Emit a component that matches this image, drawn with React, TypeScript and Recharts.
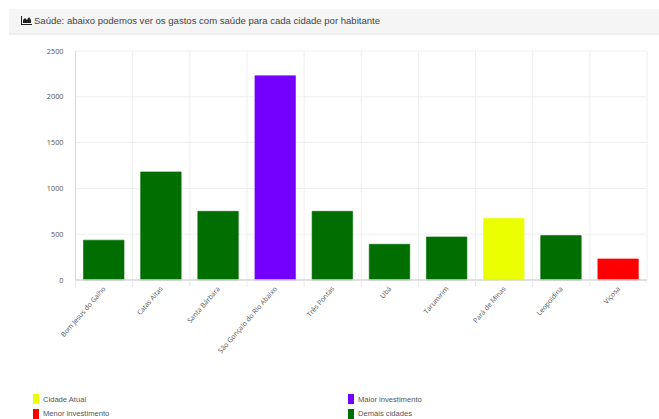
import { BarChart, Bar, Cell, XAxis, YAxis, CartesianGrid } from "recharts";

const cities = [
  "Bom Jesus do Galho",
  "Catas Altas",
  "Santa Bárbara",
  "São Gonçalo do Rio Abaixo",
  "Três Pontas",
  "Ubá",
  "Tarumirim",
  "Pará de Minas",
  "Leopoldina",
  "Viçosa",
];
const spending = [435, 1180, 750, 2230, 750, 390, 470, 675, 485, 230];

const GREEN = "#006e00";
const PURPLE = "#7300ff";
const YELLOW = "#eaff00";
const RED = "#ff0000";
const barColors = [GREEN, GREEN, GREEN, PURPLE, GREEN, GREEN, GREEN, YELLOW, GREEN, RED];

const yTicks = [0, 500, 1000, 1500, 2000, 2500];
const legendLeft = [
  { label: "Cidade Atual", color: YELLOW },
  { label: "Menor investimento", color: RED },
];
const legendRight = [
  { label: "Maior investimento", color: PURPLE },
  { label: "Demais cidades", color: GREEN },
];

const data = cities.map((city, i) => ({ city, value: spending[i] }));

const FONT = "'Liberation Sans', Arial, sans-serif";
const AXIS_FONT = "'Open Sans', sans-serif";
const BAND = 57.15;

// rotated city label, plus the little grid tick on the band's left edge
function CityTick({ x, y, payload }: any) {
  const tx = x + 2;
  const ty = y + 1;
  return (
    <g>
      <line x1={x - BAND / 2} x2={x - BAND / 2} y1={280} y2={287} stroke="#e8e8e8" />
      <text
        x={tx}
        y={ty}
        textAnchor="end"
        fontSize={6.9}
        fill="#555"
        fontFamily={AXIS_FONT}
        transform={`rotate(-49 ${tx} ${ty})`}
      >
        {payload.value}
      </text>
    </g>
  );
}

function LegendItem({ label, color, left, top }: { label: string; color: string; left: number; top: number }) {
  return (
    <div style={{ position: "absolute", left, top, height: 10, display: "flex", alignItems: "center" }}>
      <span style={{ width: 6, height: 10, background: color, marginRight: 4, display: "block" }} />
      <span style={{ fontSize: 7.6, color: "#555", fontFamily: FONT, whiteSpace: "nowrap" }}>{label}</span>
    </div>
  );
}

export default function App() {
  return (
    <div style={{ position: "absolute", left: 0, top: 0, width: 659, height: 419, background: "#fff", overflow: "hidden" }}>
      <div
        style={{
          position: "absolute",
          left: 9,
          top: 9,
          width: 650,
          height: 26,
          background: "#f5f5f5",
          borderBottom: "2px solid #eeeeee",
          boxSizing: "border-box",
          display: "flex",
          alignItems: "center",
          paddingLeft: 12,
          paddingBottom: 1,
          fontFamily: FONT,
          fontSize: 9.56,
          color: "#444",
        }}
      >
        <svg width="11" height="9" viewBox="0 0 11 9" style={{ marginRight: 2 }}>
          <path d="M0 0H1V8H11V9H0Z M2 7V4L4 2L6 4L8 1L10 4V7Z" fill="#222" />
        </svg>
        Saúde: abaixo podemos ver os gastos com saúde para cada cidade por habitante
      </div>

      <div style={{ position: "absolute", left: 0, top: 0 }}>
        <BarChart
          width={659}
          height={380}
          data={data}
          margin={{ top: 51, right: 12, bottom: 0, left: 0 }}
          barSize={40.5}
        >
          <CartesianGrid
            stroke="#eeeeee"
            verticalCoordinatesGenerator={({ offset }: any) =>
              cities.map((_, i) => offset.left + (i * offset.width) / cities.length).concat(offset.left + offset.width)
            }
          />
          <XAxis
            dataKey="city"
            interval={0}
            height={100}
            axisLine={{ stroke: "#d8d8d8", strokeWidth: 1.5 }}
            tickLine={false}
            tick={<CityTick />}
            tickMargin={2}
          />
          <YAxis
            width={75.5}
            domain={[0, 2500]}
            ticks={yTicks}
            axisLine={{ stroke: "#d8d8d8" }}
            tickLine={false}
            tickMargin={6}
            tick={{ fontSize: 7.3, fill: "#555", fontFamily: AXIS_FONT }}
          />
          <Bar dataKey="value" isAnimationActive={false} strokeWidth={1}>
            {barColors.map((color, i) => (
              <Cell key={cities[i]} fill={color} stroke={color} strokeOpacity={0.6} />
            ))}
          </Bar>
        </BarChart>
      </div>

      {legendLeft.map((item, i) => (
        <LegendItem key={item.label} {...item} left={33} top={394 + i * 14.5} />
      ))}
      {legendRight.map((item, i) => (
        <LegendItem key={item.label} {...item} left={348} top={394 + i * 14.5} />
      ))}
    </div>
  );
}
